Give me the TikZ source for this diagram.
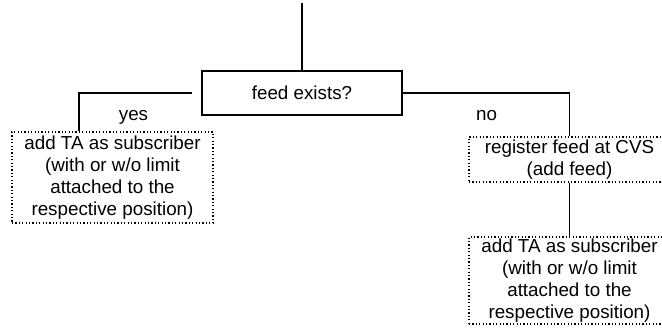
\documentclass[tikz,border=0pt]{standalone}
\usepackage{fontspec}
\setmainfont{Liberation Sans}
\begin{document}
\begin{tikzpicture}[x=1pt,y=-1pt,
  every node/.style={font=\fontsize{18.8}{22}\selectfont, inner sep=0pt},
  conn/.style={line width=1.3pt},
  decision/.style={draw, line width=1.3pt, minimum width=200pt, minimum height=44pt},
  actionbox/.style={draw, line width=1.2pt, dash pattern=on 1.2pt off 2.2pt,
    minimum width=201pt, align=center},
  label/.style={anchor=base}]
  \useasboundingbox (0,0) rectangle (662,329);

  % decision
  \node[decision] (feed) at (302,93) {feed exists?};

  % branch "yes"
  \node[actionbox, minimum height=91pt] (addl) at (112.5,177.5)
    {add TA as subscriber\\(with or w/o limit\\attached to the\\respective position)};
  % branch "no"
  \node[actionbox, minimum height=45pt] (reg) at (569.5,159.5)
    {register feed at CVS\\(add feed)};
  \node[actionbox, minimum height=87pt] (addr) at (569.5,280.5)
    {add TA as subscriber\\(with or w/o limit\\attached to the\\respective position)};

  % branch labels
  \node[label] (yes) at (133.5,121) {yes};
  \node[label] (no) at (486.5,121) {no};

  % connectors
  \coordinate (in) at (302,3);
  \coordinate (lstart) at (192,93);
  \coordinate (ljoint) at (79,93);
  \draw[conn] (in) -- (feed.north);
  \draw[conn] (lstart) -- (ljoint) -- (ljoint |- addl.north);
  \draw[conn] (feed.east) -| (reg.north);
  \draw[conn] (reg.south) -- (addr.north);
\end{tikzpicture}
\end{document}
